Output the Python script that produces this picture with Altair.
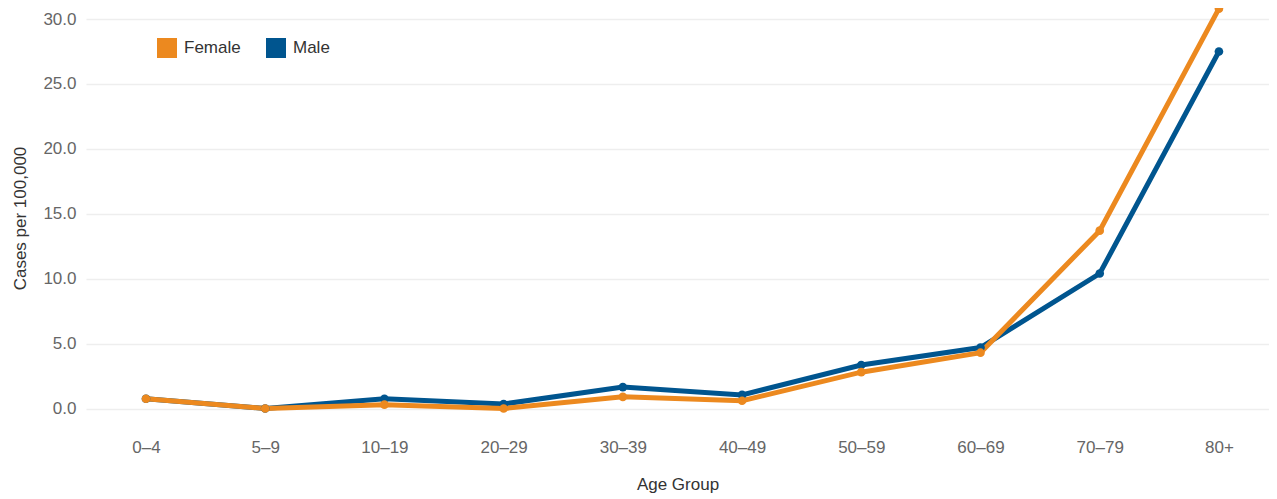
import altair as alt
import pandas as pd

age_groups = ["0–4", "5–9", "10–19", "20–29", "30–39", "40–49", "50–59", "60–69", "70–79", "80+"]
male = [0.75, 0.0, 0.75, 0.35, 1.65, 1.05, 3.35, 4.7, 10.4, 27.5]
female = [0.75, 0.0, 0.3, 0.0, 0.9, 0.6, 2.8, 4.3, 13.7, 30.8]
sexes = ["Female", "Male"]
colors = ["#EC891F", "#00558F"]
y_ticks = [0, 5, 10, 15, 20, 25, 30]

rows = []
for g, v in zip(age_groups, male):
    rows.append({"Age Group": g, "Sex": "Male", "Rate": v})
for g, v in zip(age_groups, female):
    rows.append({"Age Group": g, "Sex": "Female", "Rate": v})
df = pd.DataFrame(rows)

chart = alt.Chart(df).mark_line(
    strokeWidth=5,
    point=alt.OverlayMarkDef(size=75, filled=True, opacity=1),
).encode(
    x=alt.X(
        "Age Group:N",
        sort=age_groups,
        scale=alt.Scale(type="point", padding=0.4615, align=0.545),
        axis=alt.Axis(
            title="Age Group",
            labelAngle=0,
            grid=False,
            ticks=False,
            domain=False,
            labelPadding=11,
            titlePadding=21,
        ),
    ),
    y=alt.Y(
        "Rate:Q",
        scale=alt.Scale(domain=[-1.5, 30.85], nice=False, zero=False),
        axis=alt.Axis(
            title="Cases per 100,000",
            values=y_ticks,
            format=".1f",
            ticks=False,
            domain=False,
            labelPadding=10,
            titlePadding=13,
            gridColor="#EEEEEE",
            gridWidth=1.5,
        ),
    ),
    color=alt.Color(
        "Sex:N",
        scale=alt.Scale(domain=sexes, range=colors),
        legend=alt.Legend(
            title=None,
            orient="none",
            direction="horizontal",
            legendX=71,
            legendY=30,
            symbolType="square",
            symbolSize=400,
            symbolStrokeWidth=0,
            symbolOpacity=1,
            labelFontSize=17,
            labelColor="#333333",
            labelOffset=7,
            columnPadding=25,
        ),
    ),
    order=alt.Order("Sex:N", sort="descending"),
).properties(
    width=1183,
    height=420,
    autosize=alt.AutoSizeParams(type="none"),
    padding={"left": 78, "top": 0, "right": 0, "bottom": 71},
).configure_view(
    stroke=None
).configure_axis(
    labelFont="Liberation Sans",
    titleFont="Liberation Sans",
    labelFontSize=17,
    titleFontSize=17,
    labelColor="#666666",
    titleColor="#333333",
    titleFontWeight="normal",
).configure_legend(
    labelFont="Liberation Sans",
)

chart.save("out.html", embed_options={"renderer": "svg", "actions": False})
